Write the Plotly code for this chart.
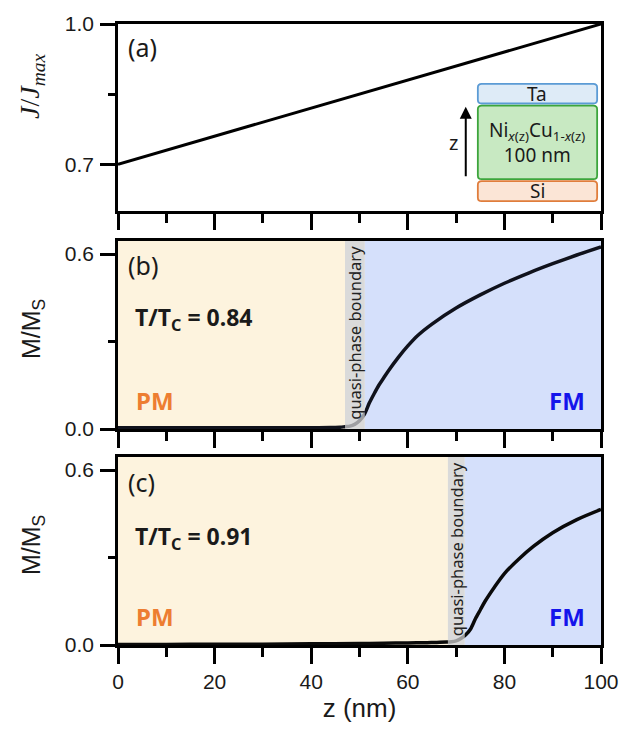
import plotly.graph_objects as go

# ---------------- data ----------------
z_a = [0, 100]
j_a = [0.7, 1.0]

z_b = [0, 10, 20, 30, 40, 44, 46, 47, 48, 49, 50, 51, 52, 53, 54, 55, 56, 58, 60, 62, 65, 70, 75, 80, 85, 90, 95, 100]
m_b = [0.004, 0.004, 0.004, 0.004, 0.004, 0.005, 0.006, 0.008, 0.010, 0.016, 0.028, 0.050, 0.088, 0.12, 0.15,
       0.175, 0.20, 0.245, 0.285, 0.32, 0.36, 0.415, 0.46, 0.50, 0.535, 0.567, 0.597, 0.625]

z_c = [0, 10, 20, 30, 40, 50, 55, 60, 64, 66, 68, 69, 70, 71, 72, 73, 74, 75, 76, 78, 80, 83, 86, 90, 95, 100]
m_c = [0.002, 0.002, 0.003, 0.003, 0.004, 0.005, 0.006, 0.007, 0.008, 0.009, 0.010, 0.011, 0.014, 0.022, 0.035,
       0.055, 0.09, 0.12, 0.15, 0.20, 0.245, 0.295, 0.338, 0.385, 0.43, 0.465]

boundary_b = [47.0, 51.1]
boundary_c = [68.3, 71.8]
tc_labels = ["T/T<sub>C</sub> = 0.84", "T/T<sub>C</sub> = 0.91"]

x_ticks = [0, 20, 40, 60, 80, 100]
ya_ticks = [0.7, 1.0]
ym_ticks = [0.0, 0.6]

# ---------------- layout helpers ----------------
L, R, T, B = 118, 601, 24, 645
W, H = 626, 733


def xp(px):
    return (px - L) / (R - L)


def yp(py):
    return (B - py) / (B - T)


dom_a = [yp(211), 1.0]
dom_b = [yp(429), yp(241)]
dom_c = [0.0, yp(457)]

PM_BG = "rgb(253,243,222)"
FM_BG = "rgb(213,224,251)"
GRAY = "rgba(205,205,205,0.75)"
TICKFONT = dict(family="Liberation Sans, Arial", size=21, color="#1a1a1a")
CAL = "Noto Sans, Open Sans"

fig = go.Figure()
fig.add_trace(go.Scatter(x=z_a, y=j_a, mode="lines", line=dict(color="black", width=3),
                         xaxis="x", yaxis="y", showlegend=False))
fig.add_trace(go.Scatter(x=z_b, y=m_b, mode="lines", line=dict(color="#10121c", width=3.5, shape="spline", smoothing=0.8),
                         xaxis="x2", yaxis="y2", showlegend=False))
fig.add_trace(go.Scatter(x=z_c, y=m_c, mode="lines", line=dict(color="#0a0a0a", width=3.5, shape="spline", smoothing=0.8),
                         xaxis="x3", yaxis="y3", showlegend=False))

common_x = dict(range=[0, 100], showline=True, linecolor="black", linewidth=2.5, mirror=True,
                ticks="outside", ticklen=16, tickwidth=2.5, tickcolor="black",
                tickvals=x_ticks, showgrid=False, zeroline=False, automargin=False,
                minor=dict(ticks="outside", ticklen=9, tickwidth=2.5, tickcolor="black", dtick=10, tick0=0),
                tickfont=TICKFONT)
common_y = dict(showline=True, linecolor="black", linewidth=2.5, mirror=True,
                ticks="outside", ticklen=15, tickwidth=2.5, tickcolor="black", automargin=False,
                showgrid=False, zeroline=False, tickfont=TICKFONT, ticklabelstandoff=2)

fig.update_layout(
    width=W, height=H,
    margin=dict(l=L, r=W - R, t=T, b=H - B),
    paper_bgcolor="white", plot_bgcolor="white",
    xaxis=dict(common_x, anchor="y", domain=[0, 1], showticklabels=False),
    xaxis2=dict(common_x, anchor="y2", domain=[0, 1], showticklabels=False),
    xaxis3=dict(common_x, anchor="y3", domain=[0, 1], showticklabels=True,
                title=dict(text="z (nm)", font=dict(family="Liberation Sans, Arial", size=26, color="#1a1a1a"), standoff=4)),
    yaxis=dict(common_y, anchor="x", domain=dom_a, range=[0.6, 1.0], tickvals=ya_ticks,
               ticktext=["%.1f" % v for v in ya_ticks],
               minor=dict(ticks="outside", ticklen=7, tickwidth=2.5, tickcolor="black", tickvals=[0.85])),
    yaxis2=dict(common_y, anchor="x2", domain=dom_b, range=[0, 0.645], tickvals=ym_ticks,
                ticktext=["%.1f" % v for v in ym_ticks],
                minor=dict(ticks="outside", ticklen=7, tickwidth=2.5, tickcolor="black", tickvals=[0.3])),
    yaxis3=dict(common_y, anchor="x3", domain=dom_c, range=[0, 0.645], tickvals=ym_ticks,
                ticktext=["%.1f" % v for v in ym_ticks],
                minor=dict(ticks="outside", ticklen=7, tickwidth=2.5, tickcolor="black", tickvals=[0.3])),
)

shapes = []
for xr, yr, bd in [("x2", "y2 domain", boundary_b), ("x3", "y3 domain", boundary_c)]:
    shapes.append(dict(type="rect", xref=xr, yref=yr, x0=0, x1=bd[0], y0=0, y1=1,
                       fillcolor=PM_BG, line=dict(width=0), layer="below"))
    shapes.append(dict(type="rect", xref=xr, yref=yr, x0=bd[1], x1=100, y0=0, y1=1,
                       fillcolor=FM_BG, line=dict(width=0), layer="below"))
    shapes.append(dict(type="rect", xref=xr, yref=yr, x0=bd[0], x1=bd[1], y0=0, y1=1,
                       fillcolor=GRAY, line=dict(width=0), layer="above"))


# inset boxes (panel a, in axis coords)
def rrect(x0, x1, y0, y1, rx=0.8, ry=0.008):
    return (f"M {x0+rx},{y0} L {x1-rx},{y0} Q {x1},{y0} {x1},{y0+ry} L {x1},{y1-ry} "
            f"Q {x1},{y1} {x1-rx},{y1} L {x0+rx},{y1} Q {x0},{y1} {x0},{y1-ry} "
            f"L {x0},{y0+ry} Q {x0},{y0} {x0+rx},{y0} Z")


bx0, bx1 = 74.5, 99.2
boxes = [(0.830, 0.872, "rgb(222,235,247)", "rgb(91,155,213)"),
         (0.668, 0.8255, "rgb(200,233,194)", "rgb(60,165,60)"),
         (0.621, 0.664, "rgb(251,229,214)", "rgb(224,125,60)")]
for y0, y1, fc, lc in boxes:
    shapes.append(dict(type="path", xref="x", yref="y", path=rrect(bx0, bx1, y0, y1),
                       fillcolor=fc, line=dict(color=lc, width=1.8), layer="above"))
fig.update_layout(shapes=shapes)

ann = []
# axis titles
ann.append(dict(text="<i>J</i>/<i>J</i><sub><i>max</i></sub>", xref="paper", yref="paper", x=xp(31), y=yp(86),
                xanchor="center", yanchor="middle",
                textangle=-90, showarrow=False, font=dict(family="Liberation Serif", size=28, color="#1a1a1a")))
for cy in [329, 545]:
    ann.append(dict(text="M/M<sub>S</sub>", xref="paper", yref="paper", x=xp(33), y=yp(cy),
                    xanchor="center", yanchor="middle",
                    textangle=-90, showarrow=False, font=dict(family="Liberation Sans, Arial", size=25, color="#1a1a1a")))
# panel labels
for lab, cy in [("(a)", 47), ("(b)", 265), ("(c)", 482)]:
    ann.append(dict(text=lab, xref="paper", yref="paper", x=xp(126), y=yp(cy), xanchor="left", yanchor="middle",
                    showarrow=False, font=dict(family=CAL, size=25, color="#1a1a1a")))
# T/Tc
for lab, cy in zip(tc_labels, [318, 537]):
    ann.append(dict(text="<b>" + lab + "</b>", xref="paper", yref="paper", x=xp(133), y=yp(cy), xanchor="left",
                    yanchor="middle", showarrow=False, font=dict(family=CAL, size=23, color="#1a1a1a")))
# PM / FM
for cy in [400, 616]:
    ann.append(dict(text="<b>PM</b>", xref="paper", yref="paper", x=xp(134), y=yp(cy), xanchor="left",
                    yanchor="middle", showarrow=False, font=dict(family=CAL, size=24, color="rgb(237,125,49)")))
    ann.append(dict(text="<b>FM</b>", xref="paper", yref="paper", x=xp(567), y=yp(cy), xanchor="center",
                    yanchor="middle", showarrow=False, font=dict(family=CAL, size=24, color="rgb(20,20,235)")))
# quasi-phase boundary labels
for xr, yr, bd in [("x2", "y2 domain", boundary_b), ("x3", "y3 domain", boundary_c)]:
    ann.append(dict(text="quasi-phase boundary", xref=xr, yref=yr, x=(bd[0] + bd[1]) / 2, y=0.985,
                    xanchor="center", yanchor="top", textangle=-90, showarrow=False,
                    font=dict(family=CAL, size=16.5, color="#222")))
# inset texts
ann.append(dict(text="Ta", xref="x", yref="y", x=(bx0 + bx1) / 2, y=0.851, showarrow=False,
                font=dict(family=CAL, size=19, color="#1a1a1a")))
ann.append(dict(text="Ni<sub><i>x</i>(z)</sub>Cu<sub>1-<i>x</i>(z)</sub><br>100 nm", xref="x", yref="y",
                x=(bx0 + bx1) / 2, y=0.747, showarrow=False,
                font=dict(family=CAL, size=19, color="#1a1a1a")))
ann.append(dict(text="Si", xref="x", yref="y", x=(bx0 + bx1) / 2, y=0.6425, showarrow=False,
                font=dict(family=CAL, size=19, color="#1a1a1a")))
ann.append(dict(text="", xref="x", yref="y", axref="x", ayref="y", x=72.0, y=0.823, ax=72.0, ay=0.671,
                showarrow=True, arrowhead=2, arrowsize=1.2, arrowwidth=2, arrowcolor="black"))
ann.append(dict(text="z", xref="x", yref="y", x=69.4, y=0.747, showarrow=False,
                font=dict(family=CAL, size=20, color="#1a1a1a")))
fig.update_layout(annotations=ann)

fig.write_html("out.html", config={"displayModeBar": False},
               post_script="document.body.style.margin='0';document.body.style.padding='0';")
